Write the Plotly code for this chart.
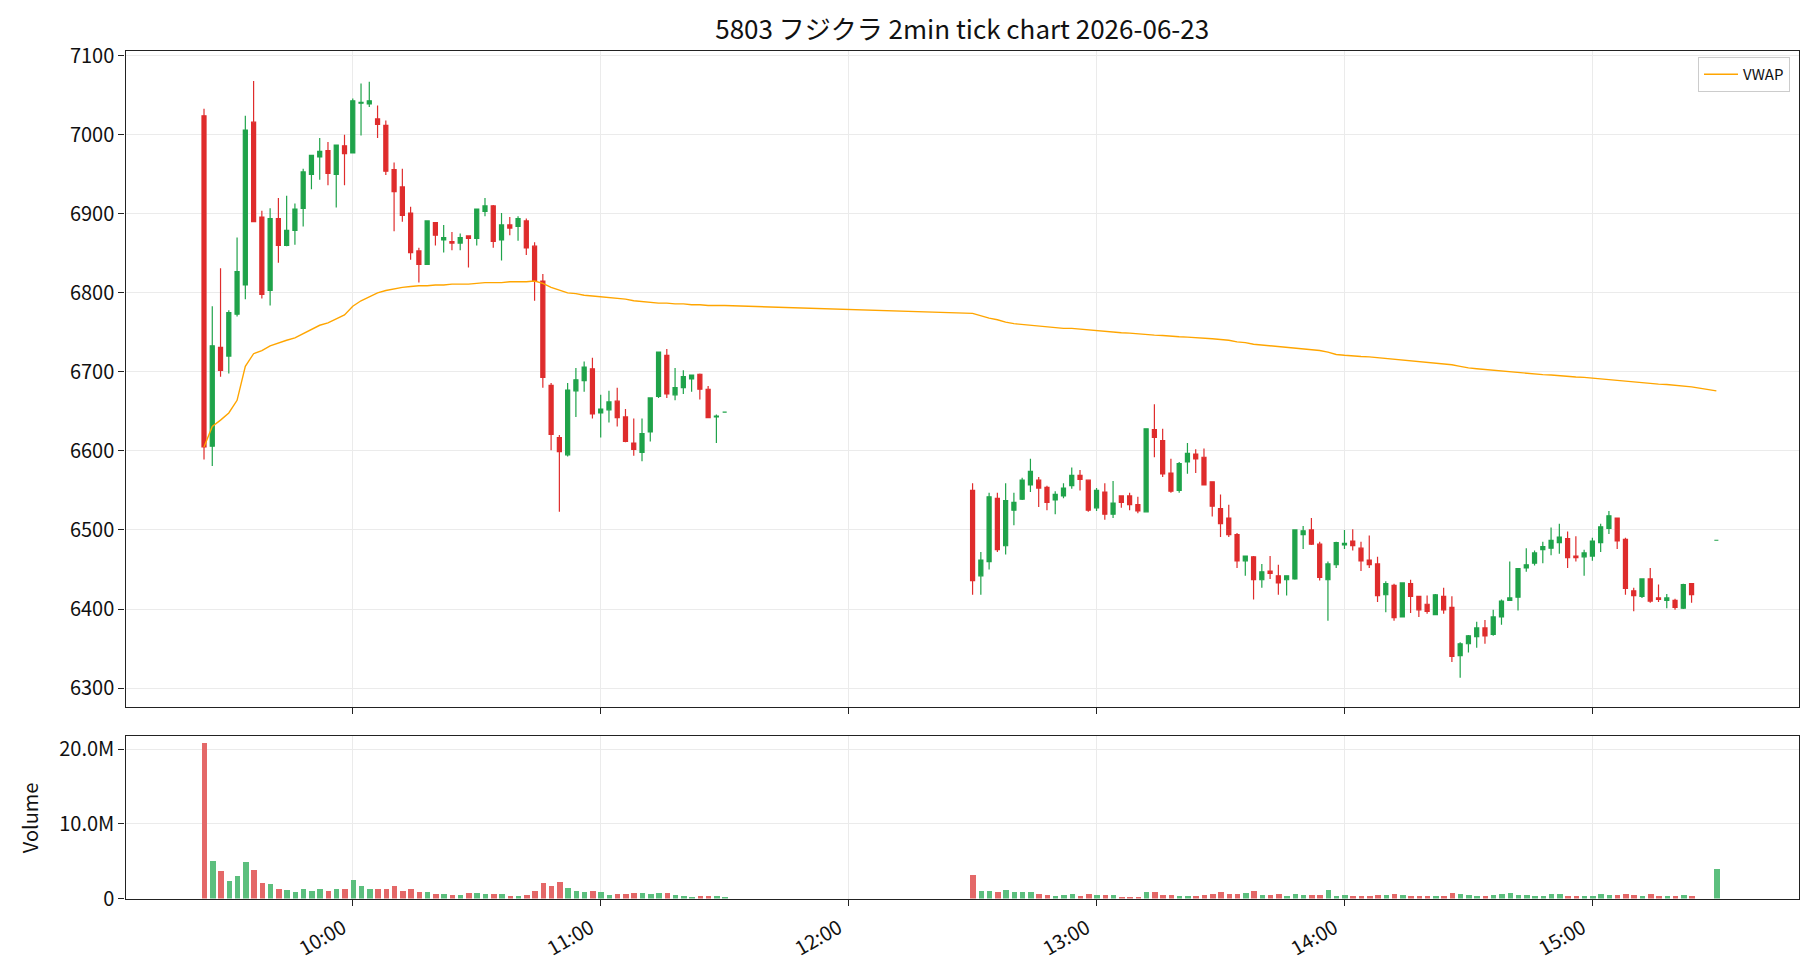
import pandas as pd
import plotly.graph_objects as go

DATE = "2026-06-23"
TITLE = "5803 フジクラ 2min tick chart 2026-06-23"

# ---------- morning session 09:24 - 11:30 (2 min) ----------
am_open = [7024, 6606, 6731, 6720, 6773, 6810, 7016, 6896, 6803, 6894,
           6860, 6879, 6907, 6950, 6972, 6980, 6950, 6986, 6977, 7040,
           7039, 7020, 7012, 6956, 6934, 6901, 6853, 6836, 6889, 6867,
           6865, 6863, 6872, 6869, 6903, 6910, 6867, 6886, 6884, 6891,
           6859, 6815, 6683, 6617, 6595, 6676, 6689, 6704, 6648, 6652,
           6663, 6643, 6610, 6598, 6624, 6669, 6721, 6671, 6680, 6691,
           6697, 6678, 6643, 6649]
am_high = [7033, 6783, 6831, 6778, 6870, 7024, 7068, 6904, 6907, 6920,
           6923, 6913, 6957, 6974, 6996, 6991, 6987, 7000, 7046, 7065,
           7067, 7037, 7018, 6965, 6957, 6909, 6857, 6891, 6889, 6886,
           6877, 6875, 6872, 6906, 6920, 6911, 6901, 6896, 6897, 6894,
           6864, 6824, 6686, 6620, 6686, 6705, 6713, 6718, 6671, 6676,
           6680, 6653, 6641, 6641, 6667, 6725, 6729, 6705, 6702, 6696,
           6698, 6682, 6646, 6649]
am_low = [6589, 6581, 6694, 6698, 6770, 6792, 6890, 6793, 6784, 6838,
          6859, 6861, 6884, 6931, 6943, 6936, 6908, 6936, 6977, 6999,
          7035, 6996, 6949, 6878, 6890, 6842, 6813, 6836, 6860, 6851,
          6854, 6854, 6832, 6860, 6897, 6857, 6841, 6873, 6866, 6848,
          6790, 6680, 6601, 6523, 6593, 6643, 6675, 6641, 6617, 6636,
          6631, 6611, 6594, 6587, 6612, 6667, 6667, 6664, 6672, 6675,
          6665, 6642, 6610, 6649]
am_close = [6605, 6733, 6702, 6775, 6827, 7006, 6890, 6798, 6894, 6860,
            6879, 6906, 6953, 6974, 6979, 6951, 6987, 6976, 7043, 7041,
            7043, 7013, 6954, 6928, 6898, 6851, 6836, 6891, 6873, 6870,
            6863, 6870, 6869, 6906, 6910, 6865, 6886, 6882, 6894, 6857,
            6815, 6693, 6621, 6599, 6677, 6690, 6706, 6647, 6653, 6662,
            6642, 6612, 6602, 6622, 6667, 6725, 6672, 6680, 6694, 6696,
            6678, 6642, 6644, 6649]
am_volume_m = [20.8, 5.0, 3.64, 2.3, 2.98, 4.84, 3.78, 2.04, 1.91, 1.24,
               1.11, 0.84, 1.24, 0.98, 1.24, 0.98, 1.24, 1.24, 2.44, 1.64,
               1.24, 1.24, 1.24, 1.64, 0.98, 1.24, 0.84, 0.84, 0.58, 0.58,
               0.44, 0.44, 0.71, 0.71, 0.58, 0.58, 0.58, 0.31, 0.31, 0.44,
               0.98, 2.04, 1.64, 2.18, 1.38, 0.98, 0.84, 0.98, 0.84, 0.44,
               0.58, 0.58, 0.71, 0.71, 0.58, 0.71, 0.71, 0.44, 0.31, 0.18,
               0.31, 0.31, 0.31, 0.09]
am_vwap = [6605, 6631, 6639, 6648, 6664, 6707, 6723, 6727, 6733, 6737,
           6740, 6743, 6748, 6753, 6759, 6762, 6767, 6772, 6783, 6790,
           6795, 6800, 6803, 6805, 6807, 6808, 6809, 6809, 6810, 6810,
           6811, 6811, 6811, 6812, 6813, 6813, 6813, 6814, 6814, 6814,
           6815, 6812, 6807, 6803, 6800, 6799, 6797, 6796, 6795, 6794,
           6793, 6792, 6790, 6789, 6788, 6787, 6787, 6786, 6786, 6785,
           6785, 6784, 6784, 6784]

# ---------- afternoon session 12:30 - 15:24 (2 min) + 15:30 close ----------
pm_open = [6550, 6442, 6460, 6540, 6480, 6525, 6539, 6557, 6563, 6554,
           6538, 6543, 6556, 6569, 6563, 6528, 6548, 6520, 6543, 6543,
           6532, 6523, 6627, 6613, 6572, 6550, 6586, 6596, 6592, 6561,
           6527, 6515, 6494, 6461, 6466, 6437, 6448, 6442, 6437, 6438,
           6494, 6500, 6482, 6437, 6456, 6481, 6486, 6477, 6462, 6457,
           6418, 6430, 6390, 6432, 6416, 6406, 6393, 6416, 6402, 6341,
           6356, 6365, 6376, 6368, 6390, 6411, 6415, 6452, 6458, 6475,
           6477, 6484, 6489, 6467, 6466, 6467, 6484, 6502, 6515, 6488,
           6423, 6416, 6438, 6414, 6411, 6411, 6401, 6432, 6487]
pm_high = [6559, 6472, 6547, 6547, 6559, 6547, 6566, 6590, 6567, 6556,
           6549, 6559, 6579, 6576, 6564, 6553, 6559, 6562, 6544, 6547,
           6542, 6628, 6659, 6628, 6590, 6586, 6610, 6602, 6603, 6561,
           6545, 6532, 6496, 6467, 6467, 6457, 6467, 6456, 6442, 6500,
           6505, 6515, 6485, 6460, 6485, 6500, 6501, 6485, 6493, 6466,
           6435, 6432, 6433, 6437, 6416, 6417, 6419, 6427, 6416, 6358,
           6367, 6384, 6386, 6399, 6412, 6460, 6452, 6477, 6474, 6485,
           6503, 6508, 6498, 6492, 6475, 6490, 6508, 6524, 6515, 6490,
           6427, 6438, 6452, 6431, 6419, 6413, 6432, 6432, 6487]
pm_low = [6418, 6418, 6450, 6472, 6469, 6506, 6538, 6548, 6529, 6525,
          6520, 6540, 6552, 6550, 6523, 6524, 6513, 6515, 6528, 6525,
          6521, 6523, 6592, 6567, 6547, 6547, 6571, 6572, 6557, 6517,
          6491, 6491, 6452, 6442, 6412, 6427, 6438, 6418, 6417, 6437,
          6476, 6481, 6436, 6385, 6452, 6476, 6474, 6448, 6452, 6409,
          6396, 6385, 6390, 6395, 6390, 6394, 6393, 6394, 6333, 6313,
          6345, 6351, 6356, 6366, 6380, 6410, 6398, 6447, 6455, 6458,
          6468, 6470, 6452, 6460, 6442, 6461, 6472, 6495, 6476, 6418,
          6397, 6414, 6408, 6409, 6401, 6399, 6400, 6408, 6487]
pm_close = [6436, 6462, 6542, 6475, 6537, 6535, 6563, 6574, 6553, 6535,
            6545, 6553, 6569, 6564, 6525, 6550, 6520, 6534, 6535, 6532,
            6524, 6628, 6617, 6571, 6549, 6584, 6597, 6590, 6557, 6530,
            6508, 6494, 6461, 6467, 6437, 6447, 6445, 6433, 6442, 6500,
            6499, 6482, 6440, 6457, 6484, 6483, 6480, 6461, 6456, 6417,
            6432, 6389, 6433, 6416, 6399, 6397, 6418, 6399, 6340, 6356,
            6366, 6376, 6366, 6390, 6410, 6414, 6451, 6456, 6471, 6479,
            6487, 6491, 6465, 6465, 6471, 6486, 6504, 6518, 6486, 6426,
            6417, 6438, 6410, 6412, 6414, 6402, 6431, 6418, 6487]
pm_volume_m = [3.1, 0.98, 0.98, 0.84, 1.11, 0.84, 0.84, 0.84, 0.58, 0.44,
               0.31, 0.44, 0.58, 0.31, 0.58, 0.44, 0.44, 0.44, 0.18, 0.18,
               0.18, 0.84, 0.84, 0.44, 0.44, 0.31, 0.31, 0.31, 0.44, 0.58,
               0.84, 0.58, 0.58, 0.71, 0.98, 0.44, 0.44, 0.58, 0.31, 0.58,
               0.44, 0.44, 0.44, 1.11, 0.31, 0.44, 0.31, 0.31, 0.31, 0.44,
               0.44, 0.58, 0.44, 0.31, 0.31, 0.31, 0.31, 0.31, 0.71, 0.58,
               0.44, 0.31, 0.31, 0.44, 0.58, 0.71, 0.44, 0.44, 0.31, 0.31,
               0.58, 0.58, 0.31, 0.31, 0.31, 0.31, 0.58, 0.44, 0.44, 0.58,
               0.44, 0.31, 0.58, 0.31, 0.31, 0.31, 0.44, 0.31, 3.9]
pm_vwap = [6774, 6771, 6768, 6766, 6763, 6761, 6760, 6759, 6758, 6757,
           6756, 6755, 6755, 6754, 6753, 6752, 6751, 6750, 6749.5, 6749,
           6748, 6747, 6746.5, 6746, 6745, 6744.5, 6744, 6743.5, 6743, 6742,
           6741, 6740, 6738, 6737, 6735, 6734, 6733, 6732, 6731, 6730,
           6729, 6728, 6727, 6725, 6722, 6721, 6720, 6719.5, 6719, 6718,
           6717, 6716, 6715, 6714, 6713, 6712, 6711, 6710, 6709, 6707,
           6705, 6704, 6703, 6702, 6701, 6700, 6699, 6698, 6697, 6696.5,
           6696, 6695, 6694, 6693.5, 6693, 6692, 6691, 6690, 6689, 6688,
           6687, 6686, 6685, 6684.5, 6684, 6683, 6682, 6681, 6676]

hour_ticks = ["10:00", "11:00", "12:00", "13:00", "14:00", "15:00"]
price_ticks = [6300, 6400, 6500, 6600, 6700, 6800, 6900, 7000, 7100]
volume_ticks = [0, 10_000_000, 20_000_000]
volume_tick_text = ["0", "10.0M", "20.0M"]

# ---------- assemble ----------
times = (list(pd.date_range(f"{DATE} 09:24", f"{DATE} 11:30", freq="2min"))
         + list(pd.date_range(f"{DATE} 12:30", f"{DATE} 15:24", freq="2min"))
         + [pd.Timestamp(f"{DATE} 15:30")])
o = am_open + pm_open
h = am_high + pm_high
l = am_low + pm_low
c = am_close + pm_close
vol = [v * 1e6 for v in am_volume_m + pm_volume_m]
vwap = am_vwap + pm_vwap

UP = "#1fa34a"
DN = "#df2c2c"
UP_V = "#5cbf7e"
DN_V = "#e46868"
vcolors = [UP_V if cc >= oo else DN_V for oo, cc in zip(o, c)]

FONT = "Noto Sans CJK JP, Noto Sans, DejaVu Sans, sans-serif"
W, H = 1820, 980
X0, X1 = 125.5 / W, 1799 / W
MAIN = [1 - 707 / H, 1 - 51 / H]
VOLD = [1 - 898.5 / H, 1 - 736 / H]

fig = go.Figure()
fig.add_trace(go.Candlestick(
    x=times, open=o, high=h, low=l, close=c, name="OHLC", showlegend=False,
    increasing=dict(line=dict(color=UP, width=1.2), fillcolor=UP),
    decreasing=dict(line=dict(color=DN, width=1.2), fillcolor=DN),
    whiskerwidth=0, xaxis="x", yaxis="y", hoverinfo="skip"))
fig.add_trace(go.Scatter(
    x=times, y=vwap, mode="lines", name="VWAP",
    line=dict(color="#ffa500", width=1.4), xaxis="x", yaxis="y"))
fig.add_trace(go.Bar(
    x=times, y=vol, marker=dict(color=vcolors, line=dict(width=0)),
    width=80000, showlegend=False, xaxis="x2", yaxis="y2"))

xr = [f"{DATE} 09:05", f"{DATE} 15:50"]
tickvals = [f"{DATE} {t}" for t in hour_ticks]
axis_common = dict(showline=True, linecolor="#222222", linewidth=1.4, mirror=True,
                   ticks="outside", ticklen=6, tickcolor="#222222", tickwidth=1.4,
                   gridcolor="#ebebeb", gridwidth=1, zeroline=False, automargin=False,
                   tickfont=dict(family=FONT, size=20, color="#111111"))

fig.update_layout(
    width=W, height=H, margin=dict(l=0, r=0, t=0, b=0, pad=0, autoexpand=False),
    paper_bgcolor="white", plot_bgcolor="white",
    font=dict(family=FONT, color="#111111"),
    title=dict(text=TITLE, x=(X0 + X1) / 2, xanchor="center", y=1 - 30 / H, yanchor="middle",
               font=dict(family=FONT, size=26, color="#111111"), automargin=False),
    xaxis=dict(domain=[X0, X1], anchor="y", range=xr, type="date", tickvals=tickvals,
               showticklabels=False, rangeslider=dict(visible=False), **axis_common),
    yaxis=dict(domain=MAIN, anchor="x", range=[6276, 7106], tickvals=price_ticks, **axis_common),
    xaxis2=dict(domain=[X0, X1], anchor="y2", range=xr, type="date", tickvals=tickvals,
                ticktext=hour_ticks, tickangle=-30, matches="x",
                ticklabelshift=-10, ticklabelstandoff=3, **axis_common),
    yaxis2=dict(domain=VOLD, anchor="x2", range=[0, 21.8e6], tickvals=volume_ticks,
                ticktext=volume_tick_text, **axis_common),
    legend=dict(x=1790 / W, y=1 - 57 / H, xanchor="right", yanchor="top",
                bgcolor="rgba(255,255,255,0.9)", bordercolor="#cccccc", borderwidth=1,
                itemwidth=34, tracegroupgap=0,
                font=dict(family=FONT, size=15, color="#111111")),
    showlegend=True,
    annotations=[dict(text="Volume", textangle=-90, x=29 / W, y=(VOLD[0] + VOLD[1]) / 2,
                      xref="paper", yref="paper", xanchor="center", yanchor="middle",
                      showarrow=False, font=dict(family=FONT, size=20, color="#111111"))],
    bargap=0,
)

fig.write_html("out.html")
